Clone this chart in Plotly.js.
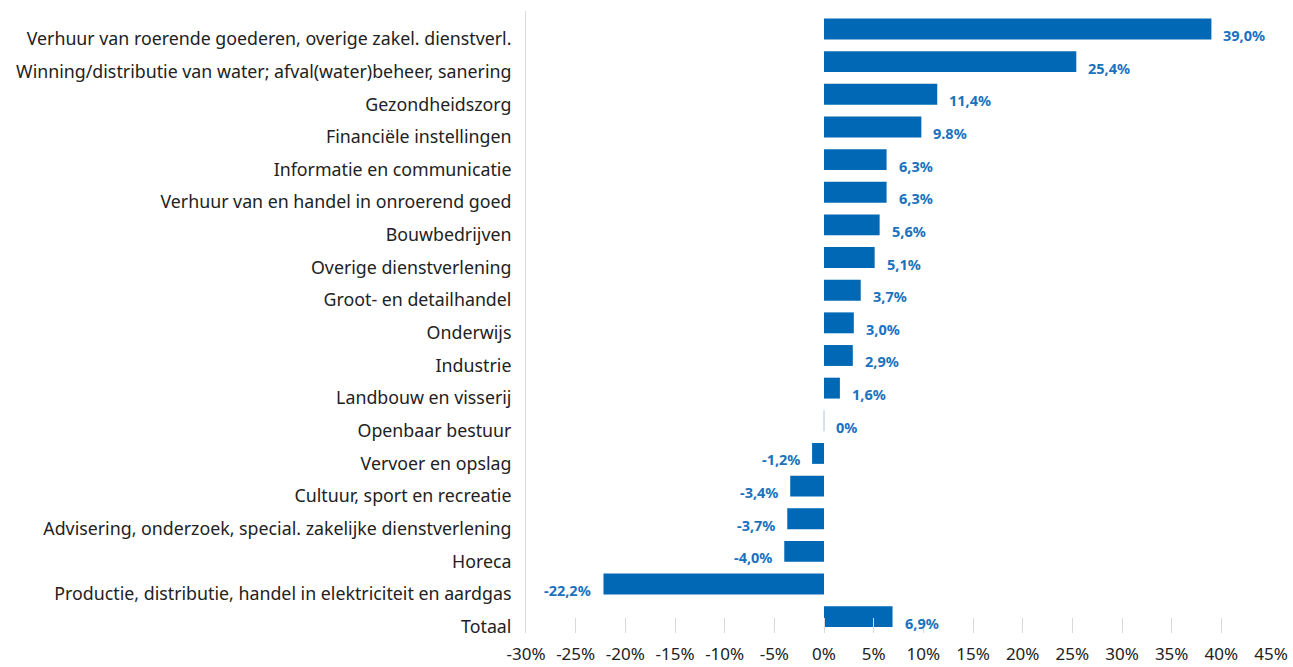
<!DOCTYPE html>
<html>
<head>
<meta charset="utf-8">
<script src="https://cdn.plot.ly/plotly-3.0.1.min.js"></script>
<style>html,body{margin:0;padding:0;background:#fff;}#chart{width:1293px;height:667px;}</style>
</head>
<body>
<div id="chart"></div>
<script>
const categories = [
  "Verhuur van roerende goederen, overige zakel. dienstverl.",
  "Winning/distributie van water; afval(water)beheer, sanering",
  "Gezondheidszorg",
  "Financiële instellingen",
  "Informatie en communicatie",
  "Verhuur van en handel in onroerend goed",
  "Bouwbedrijven",
  "Overige dienstverlening",
  "Groot- en detailhandel",
  "Onderwijs",
  "Industrie",
  "Landbouw en visserij",
  "Openbaar bestuur",
  "Vervoer en opslag",
  "Cultuur, sport en recreatie",
  "Advisering, onderzoek, special. zakelijke dienstverlening",
  "Horeca",
  "Productie, distributie, handel in elektriciteit en aardgas",
  "Totaal"
];
const values = [39.0, 25.4, 11.4, 9.8, 6.3, 6.3, 5.6, 5.1, 3.7, 3.0, 2.9, 1.6, 0, -1.2, -3.4, -3.7, -4.0, -22.2, 6.9];
const valueLabels = ["39,0%","25,4%","11,4%","9.8%","6,3%","6,3%","5,6%","5,1%","3,7%","3,0%","2,9%","1,6%","0%","-1,2%","-3,4%","-3,7%","-4,0%","-22,2%","6,9%"];
const tickValues = [-30,-25,-20,-15,-10,-5,0,5,10,15,20,25,30,35,40,45];
const tickLabels = ["-30%","-25%","-20%","-15%","-10%","-5%","0%","5%","10%","15%","20%","25%","30%","35%","40%","45%"];

const barColor = "#0068b4";
const labelColor = "#1a72be";

const trace = {
  type: "bar",
  orientation: "h",
  x: values,
  y: categories,
  marker: {
    color: barColor,
    line: {
      width: values.map(v => v === 0 ? 1 : 0),
      color: values.map(v => v === 0 ? "#c8d6e3" : barColor)
    }
  },
  hoverinfo: "skip"
};

const annotations = values.map((v, i) => ({
  x: v,
  y: categories[i],
  xref: "x",
  yref: "y",
  text: valueLabels[i],
  showarrow: false,
  xanchor: v < 0 ? "right" : "left",
  xshift: v < 0 ? -10 : 10,
  yshift: -6,
  font: {family: "Noto Sans, sans-serif", size: 14.5, color: labelColor, weight: 700}
}));

const layout = {
  width: 1293,
  height: 667,
  margin: {l: 526, r: 22, t: 11, b: 34},
  paper_bgcolor: "#fff",
  plot_bgcolor: "#fff",
  showlegend: false,
  bargap: 0.36,
  font: {family: "Noto Sans, sans-serif", color: "#222"},
  xaxis: {
    range: [-30, 45],
    tickvals: tickValues,
    ticktext: tickLabels,
    ticks: "inside",
    ticklen: 15,
    tickwidth: 1,
    tickcolor: "#d9d9d9",
    ticklabelstandoff: 9,
    showgrid: false,
    zeroline: false,
    showline: false,
    automargin: false,
    tickfont: {size: 17, color: "#222"},
    fixedrange: true
  },
  yaxis: {
    autorange: "reversed",
    showline: true,
    linecolor: "#d9d9d9",
    linewidth: 1,
    showgrid: false,
    zeroline: false,
    automargin: false,
    ticks: "",
    ticklabelstandoff: 10,
    ticklabelshift: -10,
    tickfont: {size: 17.8, color: "#222"},
    fixedrange: true
  },
  annotations: annotations
};

Plotly.newPlot("chart", [trace], layout, {displayModeBar: false, staticPlot: true});
</script>
</body>
</html>
